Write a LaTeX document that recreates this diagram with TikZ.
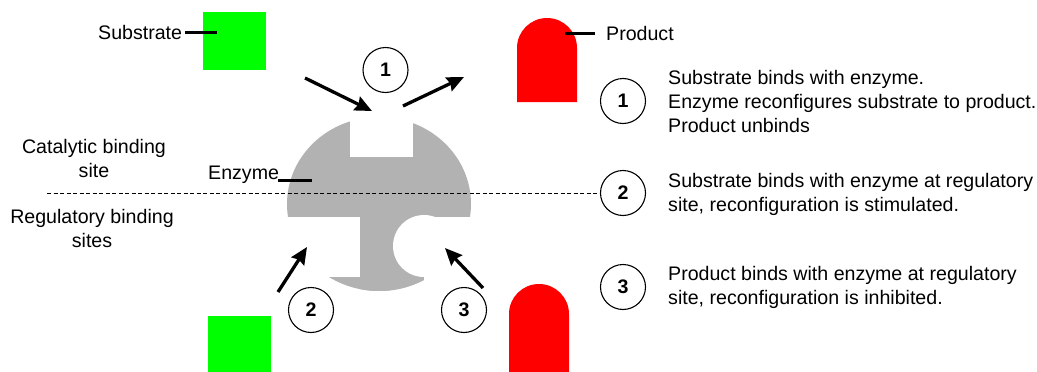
\documentclass[tikz,border=0pt]{standalone}
\usepackage{fontspec}
\setmainfont{Liberation Sans}
\usetikzlibrary{positioning,arrows.meta}

\begin{document}
\begin{tikzpicture}[
  x=1pt, y=-1pt,
  every node/.style={font=\fontsize{19.6}{24}\selectfont, inner sep=2pt},
  substrate/.style={rectangle, fill=green, minimum width=63pt, minimum height=58pt, inner sep=0pt},
  product/.style={fill=red},
  enzyme/.style={fill=black!30},
  numcirc/.style={circle, draw, line width=1.1pt, minimum size=45pt, inner sep=0pt, font=\fontsize{19.6}{24}\selectfont\bfseries},
  legend/.style={anchor=west, align=left},
  tick/.style={line width=3pt},
  react/.style={-{Stealth[length=17pt, width=15pt, inset=2pt]}, line width=3.3pt},
  divider/.style={line width=0.9pt, dash pattern=on 4pt off 2.5pt}
]
\useasboundingbox (0,0) rectangle (1037,372);

% enzyme body
\begin{scope}
  \clip (379,204) ellipse [x radius=92, y radius=87];
  \fill[enzyme] (280,100) rectangle (480,217);
  \fill[enzyme] (360,217) rectangle (424,300);
  \fill[enzyme] (280,277) rectangle (424,300);
\end{scope}
\fill[white] (350,100) rectangle (413,157);
\fill[white] (424,246) circle [radius=31];

% substrates and products
\node[substrate] (subtop) at (234.5,41) {};
\fill[product] (517,102) -- (517,48) arc[start angle=180, end angle=360, radius=30] -- (577,102) -- cycle;
\coordinate (prodtop) at (547,60);
\node[substrate, minimum height=60pt] (subbot) at (239.5,346) {};
\fill[product] (509,374) -- (509,314) arc[start angle=180, end angle=360, radius=30] -- (569,374) -- cycle;

% labels
\node[anchor=west] (sublab) at (96,32) {Substrate};
\coordinate (subtick) at (217,32);
\node[anchor=west] (prodlab) at (604,33) {Product};
\coordinate (prodtick) at (565,33);
\node[anchor=west] (enzlab) at (206,175) {Enzyme};
\coordinate (enztick) at (312,180);
\node[align=center] (catlab) at (94,158) {Catalytic binding\\site};
\node[align=center] (reglab) at (92,228) {Regulatory binding\\sites};

\draw[tick] (185,32) -- (subtick);
\draw[tick] (595,33) -- (prodtick);
\draw[tick] (278,180) -- (enztick);

% numbered steps
\node[numcirc] (c1) at (385.5,70) {1};
\node[numcirc] (c2) at (311,310) {2};
\node[numcirc] (c3) at (464,310) {3};

\coordinate (a1s) at (305,78);  \coordinate (a1e) at (372,111);
\coordinate (b1s) at (403,106); \coordinate (b1e) at (464,77);
\coordinate (a2s) at (278,292); \coordinate (a2e) at (307,247);
\coordinate (a3s) at (483,288); \coordinate (a3e) at (445,248);
\draw[react] (a1s) -- (a1e);
\draw[react] (b1s) -- (b1e);
\draw[react] (a2s) -- (a2e);
\draw[react] (a3s) -- (a3e);

% legend
\node[numcirc] (n1) at (623,101) {1};
\node[numcirc] (n2) at (623,193) {2};
\node[numcirc] (n3) at (623,287) {3};
\node[legend] (t1) at (666,101) {Substrate binds with enzyme.\\Enzyme reconfigures substrate to product.\\Product unbinds};
\node[legend] (t2) at (666,194) {Substrate binds with enzyme at regulatory\\site, reconfiguration is stimulated.};
\node[legend] (t3) at (666,287) {Product binds with enzyme at regulatory\\site, reconfiguration is inhibited.};

\coordinate (divstart) at (47,193);
\draw[divider] (divstart) -- (n2.west);
\end{tikzpicture}
\end{document}
